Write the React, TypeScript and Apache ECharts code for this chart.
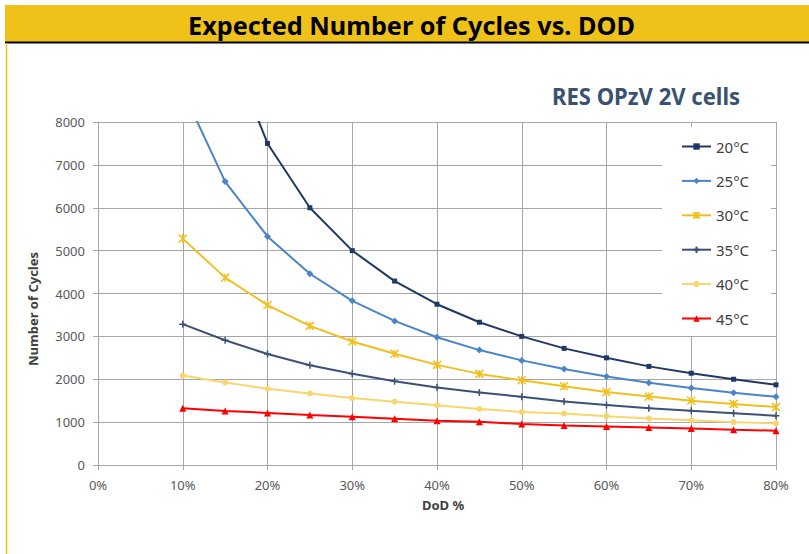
import React, { useEffect, useRef } from "react";
import * as echarts from "echarts";

const TITLE = "Expected Number of Cycles vs. DOD";
const SUBTITLE = "RES OPzV 2V cells";
const X_NAME = "DoD %";
const Y_NAME = "Number of Cycles";

const dod = [10, 15, 20, 25, 30, 35, 40, 45, 50, 55, 60, 65, 70, 75, 80];
const seriesNames = ["20°C", "25°C", "30°C", "35°C", "40°C", "45°C"];
const t20 = [15000, 10000, 7500, 6000, 5000, 4290, 3750, 3330, 3000, 2720, 2500, 2300, 2140, 2000, 1870];
const t25 = [8730, 6610, 5330, 4460, 3830, 3360, 2980, 2680, 2440, 2240, 2065, 1920, 1795, 1685, 1590];
const t30 = [5280, 4370, 3730, 3245, 2880, 2595, 2335, 2125, 1975, 1835, 1700, 1595, 1500, 1425, 1350];
const t35 = [3285, 2910, 2590, 2325, 2130, 1955, 1808, 1692, 1590, 1480, 1400, 1325, 1268, 1208, 1146];
const t40 = [2085, 1925, 1778, 1668, 1562, 1478, 1392, 1308, 1238, 1200, 1138, 1085, 1046, 1000, 968];
const t45 = [1323, 1262, 1215, 1168, 1123, 1077, 1031, 1008, 955, 923, 900, 877, 854, 823, 800];
const allValues = [t20, t25, t30, t35, t40, t45];

const colors = ["#1F3864", "#4A85C8", "#F0C020", "#3A5275", "#F8D66D", "#FF0000"];
const ASTERISK = "path://M0,0L10,10M10,0L0,10M5,0L5,10";
const PLUS = "path://M0,5L10,5M5,0L5,10";
const symbols = ["rect", "diamond", ASTERISK, PLUS, "circle", "triangle"];
const symbolSizes = [5, 7, 8, 7, 6, 7];

const FONT = "'Noto Sans', sans-serif";

function measure(text: string, font: string): number {
  const c = document.createElement("canvas");
  const ctx = c.getContext("2d");
  if (!ctx) return 1;
  ctx.font = font;
  return ctx.measureText(text).width || 1;
}

export default function App() {
  const ref = useRef<HTMLDivElement>(null);
  useEffect(() => {
    if (!ref.current) return;
    const chart = echarts.init(ref.current, undefined, { renderer: "svg" });
    const titleFont = "bold 25px 'Noto Sans'";
    const subFont = "bold 23px 'Noto Sans'";
    const titleScale = 447 / measure(TITLE, titleFont);
    const subScale = 188 / measure(SUBTITLE, subFont);

    const series = seriesNames.map((name, i) => {
      const isStroke = i === 2 || i === 3;
      return {
        name,
        type: "line",
        clip: true,
        data: dod.map((d, j) => [d, allValues[i][j]]),
        symbol: symbols[i],
        symbolSize: symbolSizes[i],
        showSymbol: true,
        lineStyle: { color: colors[i], width: 2 },
        itemStyle: isStroke
          ? { color: colors[i], borderColor: colors[i], borderWidth: 1.5 }
          : { color: colors[i], borderWidth: 0 },
        emphasis: { disabled: true },
      };
    });

    chart.setOption({
      animation: false,
      backgroundColor: "#ffffff",
      textStyle: { fontFamily: FONT },
      grid: { left: 98, right: 33, top: 122, bottom: 89, containLabel: false, outerBoundsMode: "none" },
      legend: {
        orient: "vertical",
        left: 662,
        top: 127,
        backgroundColor: "#ffffff",
        padding: [12, 22, 10, 19],
        itemGap: 19.4,
        itemWidth: 29,
        itemHeight: 8,
        data: seriesNames,
        textStyle: { fontSize: 15, color: "#404040", fontFamily: FONT },
        selectedMode: false,
      },
      xAxis: {
        type: "value",
        min: 0,
        max: 80,
        interval: 10,
        axisLine: { show: true, lineStyle: { color: "#A6A6A6", width: 1 } },
        axisTick: { show: true, length: 5, lineStyle: { color: "#A6A6A6" } },
        axisLabel: { formatter: "{value}%", color: "#595959", fontSize: 13, margin: 13, fontFamily: FONT },
        splitLine: { show: true, lineStyle: { color: "#A6A6A6", width: 1 } },
      },
      yAxis: {
        type: "value",
        min: 0,
        max: 8000,
        interval: 1000,
        axisLine: { show: true, lineStyle: { color: "#A6A6A6", width: 1 } },
        axisTick: { show: true, length: 5, lineStyle: { color: "#A6A6A6" } },
        axisLabel: {
          color: "#595959",
          fontSize: 13,
          margin: 13,
          fontFamily: FONT,
          formatter: (v: number) => String(v),
        },
        splitLine: { show: true, lineStyle: { color: "#A6A6A6", width: 1 } },
      },
      graphic: [
        { type: "rect", shape: { x: 5, y: 5, width: 804, height: 37 }, style: { fill: "#EFC21A" }, silent: true },
        { type: "line", shape: { x1: 5, y1: 42.5, x2: 809, y2: 42.5 }, style: { stroke: "#000000", lineWidth: 2 }, silent: true },
        { type: "line", shape: { x1: 6.5, y1: 43, x2: 6.5, y2: 554 }, style: { stroke: "#EFC21A", lineWidth: 1.5 }, silent: true },
        {
          type: "text",
          x: 411.5,
          y: 25,
          scaleX: titleScale,
          style: { text: TITLE, fill: "#000000", font: titleFont, align: "center", verticalAlign: "middle" },
          silent: true,
        },
        {
          type: "text",
          x: 646,
          y: 96.5,
          scaleX: subScale,
          style: { text: SUBTITLE, fill: "#3A5272", font: subFont, align: "center", verticalAlign: "middle" },
          silent: true,
        },
        {
          type: "text",
          x: 443,
          y: 505,
          style: { text: X_NAME, fill: "#404040", font: "bold 13px 'Noto Sans'", align: "center", verticalAlign: "middle" },
          silent: true,
        },
        {
          type: "text",
          x: 33,
          y: 309,
          rotation: Math.PI / 2,
          style: { text: Y_NAME, fill: "#404040", font: "bold 13px 'Noto Sans'", align: "center", verticalAlign: "middle" },
          silent: true,
        },
      ],
      series,
    });
    return () => chart.dispose();
  }, []);
  return (
    <div
      ref={ref}
      style={{ position: "fixed", left: 0, top: 0, width: 809, height: 554, background: "#fff" }}
    />
  );
}
